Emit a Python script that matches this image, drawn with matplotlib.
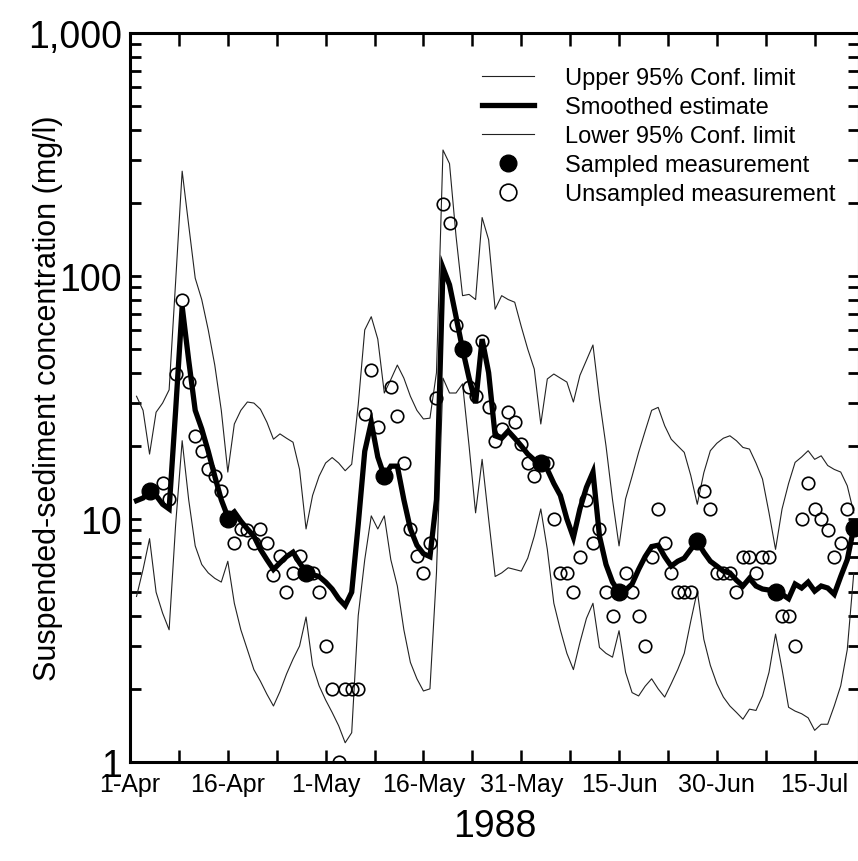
import numpy as np
import pandas as pd
import matplotlib
matplotlib.use('Agg')
import matplotlib.pyplot as plt
import matplotlib.dates as mdates
from matplotlib.ticker import FixedLocator, FixedFormatter, LogLocator, NullFormatter

plt.rcParams['font.family'] = ['Liberation Sans', 'DejaVu Sans']

# daily series, 2-Apr-1988 .. 21-Jul-1988
start = pd.Timestamp('1988-04-01')
smoothed = [11.9, 12.2, 13.0, 12.5, 11.5, 11.0, 28, 75, 45, 28,
            23.5, 19, 15, 12, 10.2, 10.7, 9.8, 9.1, 8.5, 7.5,
            6.8, 6.2, 6.6, 7.0, 7.3, 6.6, 6.05, 5.9, 5.8, 5.5,
            5.15, 4.7, 4.4, 5.0, 9.5, 19, 25, 18, 15, 16.5,
            16.5, 12, 9.1, 7.8, 7.2, 7.0, 12, 108, 92, 68,
            50, 38, 30, 55, 40, 22, 21.5, 23, 21.5, 20,
            18.5, 17.5, 17, 16, 14, 12.5, 10, 8.4, 11, 13.5,
            15.6, 8.5, 6.5, 5.5, 5.0, 5.1, 5.4, 6.2, 7.0, 7.7,
            7.8, 7.0, 6.4, 6.7, 6.9, 7.5, 8.1, 7.3, 6.7, 6.4,
            6.1, 6.0, 5.6, 5.3, 5.7, 5.3, 5.15, 5.1, 5.05, 4.9,
            4.7, 5.4, 5.2, 5.5, 5.05, 5.3, 5.2, 4.9, 5.8, 6.8,
            9.2]
upper = [32, 28, 18.5, 27.5, 30, 34, 95, 270, 162, 98,
         80, 60, 43, 28, 15.6, 24.6, 28, 30.3, 30, 28.3,
         25, 21.3, 22.4, 21.5, 20.7, 16, 9.1, 12.5, 15, 17,
         17.9, 17, 15.8, 16.8, 29.5, 60, 68, 55, 33, 37.5,
         43, 38, 32, 28, 25.8, 26, 40, 330, 290, 146,
         83, 84, 80, 174, 141, 73, 83, 80, 78, 62,
         50, 41.4, 24.6, 37.7, 39.5, 38, 36.6, 30.3, 39, 45,
         52, 31, 20, 12, 7.75, 12.1, 15, 18.8, 23, 28,
         28.8, 24.2, 21.3, 20, 18.8, 15.1, 11.5, 15.5, 19.1, 20.5,
         21.5, 22, 21, 19.7, 19.4, 17, 14.6, 10.6, 7.5, 11,
         14, 17.1, 18, 19.1, 17.6, 18.2, 16.6, 16, 15.6, 13.7,
         10.6]
lower = [4.8, 6.2, 8.3, 5.0, 4.1, 3.5, 9.5, 21, 12, 7.75,
         6.5, 6.0, 5.7, 5.5, 6.7, 4.5, 3.5, 2.9, 2.4, 2.15,
         1.9, 1.7, 1.95, 2.3, 2.65, 3.0, 3.95, 2.5, 2.06, 1.8,
         1.6, 1.41, 1.2, 1.32, 4, 6.8, 10.3, 9.1, 10.3, 6.8,
         5.3, 3.5, 2.57, 2.2, 1.96, 2.0, 6, 38, 33, 33,
         36, 20, 10.6, 17.6, 10, 5.8, 6.0, 6.3, 6.2, 6.1,
         6.9, 8.5, 11, 7.5, 4.5, 3.5, 2.8, 2.4, 3.1, 3.9,
         4.5, 2.96, 2.8, 2.7, 3.47, 2.34, 1.93, 1.87, 2.05, 2.2,
         2.0, 1.85, 2.1, 2.4, 2.8, 3.8, 5.06, 3.2, 2.5, 2.1,
         1.85, 1.7, 1.6, 1.5, 1.65, 1.63, 1.87, 2.34, 3.36, 2.41,
         1.68, 1.62, 1.58, 1.52, 1.35, 1.43, 1.43, 1.7, 2.06, 2.9,
         6.0]

sampled_days = [3, 15, 27, 39, 51, 63, 75, 87, 99, 111]
sampled_vals = [13, 10, 6, 15, 50, 17, 5, 8.1, 5, 9.2]

unsampled_days = [5, 6, 7, 8, 9, 10, 11, 12, 13, 14,
                  16, 17, 18, 19, 20, 21, 22, 23, 24, 25,
                  26, 28, 29, 30, 31, 32, 33, 34, 35, 36,
                  37, 38, 40, 41, 42, 43, 44, 45, 46, 47,
                  48, 49, 50, 52, 53, 54, 55, 56, 57, 58,
                  59, 60, 61, 62, 64, 65, 66, 67, 68, 69,
                  70, 71, 72, 73, 74, 76, 77, 78, 79, 80,
                  81, 82, 83, 84, 85, 86, 88, 89, 90, 91,
                  92, 93, 94, 95, 96, 97, 98, 100, 101, 102,
                  103, 104, 105, 106, 107, 108, 109, 110]
unsampled_vals = [14.1, 12.1, 39.5, 80, 36.5, 22, 19, 16, 15, 13,
                  8, 9.1, 9, 8, 9.1, 8, 5.9, 7.05, 5, 6,
                  7.05, 6, 5, 3, 2, 1, 2, 2, 2, 27,
                  41, 24, 35, 26.5, 17, 9.1, 7.05, 6, 8, 31.6,
                  197, 166, 63, 35, 32, 54, 29, 21, 23.4, 27.5,
                  25, 20.3, 17, 15, 17, 10, 6, 6, 5, 7,
                  12, 8, 9.1, 5, 4, 6, 5, 4, 3, 7,
                  11, 8, 6, 5, 5, 5, 13, 11, 6, 6,
                  6, 5, 7, 7, 6, 7, 7, 4, 4, 3,
                  10, 14, 11, 10, 9, 7, 8, 11]

tick_dates = pd.date_range('1988-04-01', periods=8, freq='15D')
tick_labels = ['1-Apr', '16-Apr', '1-May', '16-May', '31-May', '15-Jun', '30-Jun', '15-Jul']
minor_dates = tick_dates + pd.Timedelta(hours=180)

dates = start + pd.to_timedelta(np.arange(1, len(smoothed) + 1), unit='D')
s_dates = start + pd.to_timedelta(sampled_days, unit='D')
u_dates = start + pd.to_timedelta(unsampled_days, unit='D')

fig = plt.figure(figsize=(8.58, 8.62), dpi=100)
ax = fig.add_axes([130/858, 99/862, 729/858, 729/862])

ax.plot(dates, upper, color='#222222', lw=0.8, label='Upper 95% Conf. limit')
ax.plot(dates, smoothed, color='black', lw=3.8, solid_joinstyle='miter',
        label='Smoothed estimate', zorder=3)
ax.plot(dates, lower, color='#222222', lw=0.8, label='Lower 95% Conf. limit')
ax.plot(s_dates, sampled_vals, 'o', color='black', ms=12, ls='none',
        label='Sampled measurement', zorder=5)
ax.plot(u_dates, unsampled_vals, 'o', mfc='none', mec='black', mew=1.2, ms=9,
        ls='none', label='Unsampled measurement', zorder=4)

ax.set_yscale('log')
ax.set_ylim(1, 1000)
ax.set_xlim(start, start + pd.Timedelta(days=111.8))

ax.yaxis.set_major_locator(FixedLocator([1, 10, 100, 1000]))
ax.yaxis.set_major_formatter(FixedFormatter(['1', '10', '100', '1,000']))
ax.yaxis.set_minor_locator(LogLocator(base=10, subs=np.arange(2, 10)))
ax.yaxis.set_minor_formatter(NullFormatter())

ax.xaxis.set_major_locator(FixedLocator(mdates.date2num(tick_dates)))
ax.xaxis.set_major_formatter(FixedFormatter(tick_labels))
ax.xaxis.set_minor_locator(FixedLocator(mdates.date2num(minor_dates)))

ax.tick_params(axis='y', which='both', direction='in', length=8, width=2,
               left=True, right=True, labelsize=27, pad=6)
ax.tick_params(axis='x', which='both', direction='in', length=9, width=1.8,
               top=True, bottom=True, labelsize=18, pad=7)
for sp in ax.spines.values():
    sp.set_linewidth(2.2)

ax.set_ylabel('Suspended-sediment concentration (mg/l)', fontsize=22)
ax.yaxis.set_label_coords(-0.092, 0.5)
ax.set_xlabel('1988', fontsize=27, labelpad=9)

leg = ax.legend(loc='upper left', bbox_to_anchor=(482/858, 1 - 68/862),
                bbox_transform=fig.transFigure, frameon=False, fontsize=17,
                handlelength=2.2, handletextpad=1.3, labelspacing=0.3,
                borderpad=0, borderaxespad=0)
for h in leg.legend_handles:
    if h.get_marker() == 'o':
        h.set_markersize(12)

fig.savefig('out.png', dpi=100)
